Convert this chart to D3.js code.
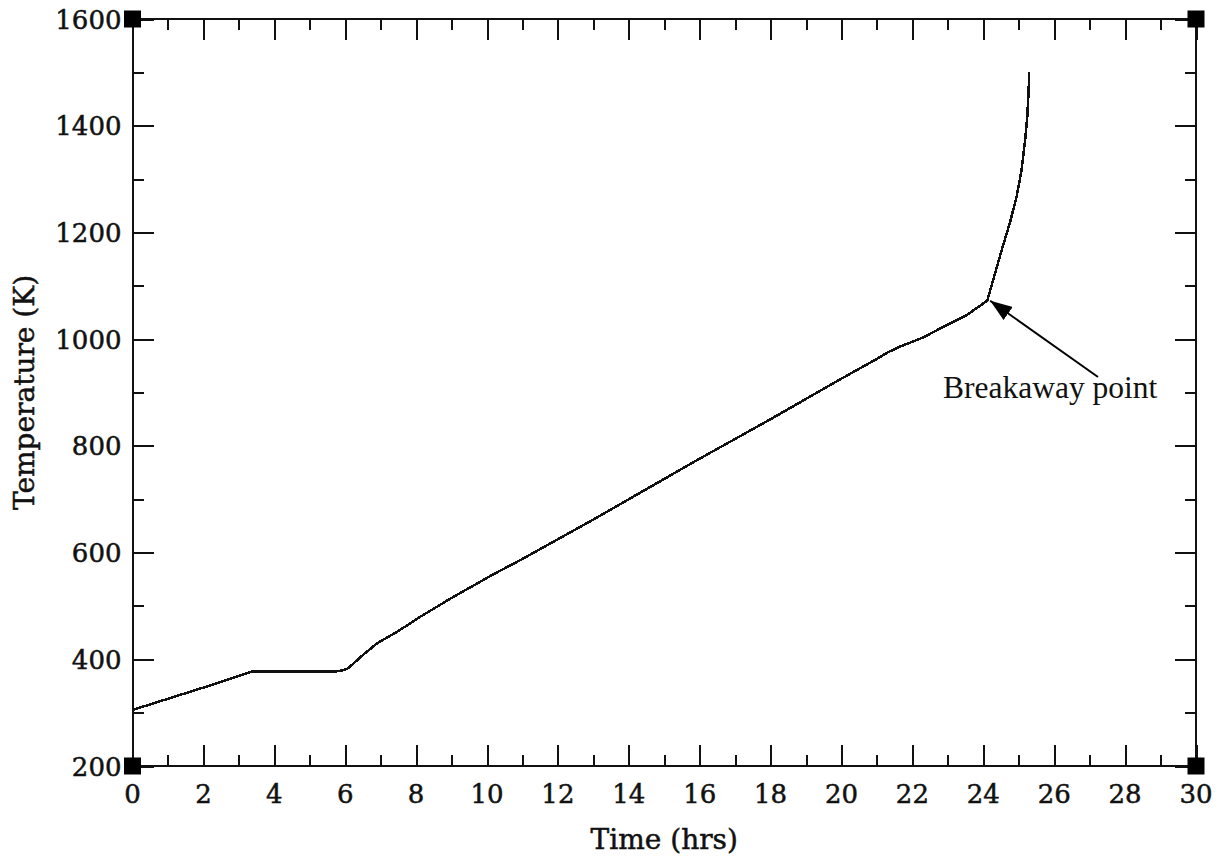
<!DOCTYPE html>
<html>
<head>
<meta charset="utf-8">
<script src="https://cdn.jsdelivr.net/npm/d3@7"></script>
<style>
  html, body { margin: 0; padding: 0; background: #fff; }
  svg { display: block; }
  .tick-label { font-family: "DejaVu Serif", serif; font-size: 26px; fill: #111; stroke: #111; stroke-width: 0.5px; }
  .axis-title { font-family: "DejaVu Serif", serif; font-size: 28px; fill: #111; stroke: #111; stroke-width: 0.5px; }
  .note { font-family: "Liberation Serif", "Times New Roman", serif; font-size: 31.5px; fill: #111; }
</style>
</head>
<body>
<svg id="chart" width="1221" height="857"></svg>
<script>
// Heating history: time (hrs) vs temperature (K)
const timeHrs = [0, 1, 2, 3, 3.36, 4, 5, 5.71, 5.9, 6.08, 6.5, 6.9, 7.5, 8.1, 9, 10.2, 11, 12, 13, 14, 15, 16, 17, 18, 19, 20, 21, 21.3, 21.65, 22.3, 22.87, 23.53, 24.11, 24.28, 24.52, 24.75, 24.94, 25.08, 25.18, 25.24, 25.28, 25.29];
const tempK   = [305, 326, 347, 369, 377, 377, 377, 377, 379, 383, 408, 430, 453, 479, 515, 560, 588, 625, 662, 700, 738, 776, 813, 850, 888, 926, 963, 975, 986, 1003, 1023, 1045, 1072, 1111, 1167, 1218, 1267, 1317, 1373, 1417, 1467, 1501];

const xTickValues = [0, 2, 4, 6, 8, 10, 12, 14, 16, 18, 20, 22, 24, 26, 28, 30];
const yTickValues = [200, 400, 600, 800, 1000, 1200, 1400, 1600];
const xMinorTicks = d3.range(0, 31, 1);
const yMinorTicks = d3.range(200, 1601, 100);

// Annotated point where the oxidation runs away
const breakaway = { t: 24.11, T: 1072, label: "Breakaway point" };

const svg = d3.select("#chart");
const plotLeft = 132.5, plotRight = 1196, plotTop = 19, plotBottom = 766;

const x = d3.scaleLinear().domain([0, 30]).range([plotLeft, plotRight]);
const y = d3.scaleLinear().domain([200, 1600]).range([plotBottom, plotTop]);

const ink = "#111";
const majorLen = 21, minorLen = 11;

// Frame-style axes: ticks point inward on all four sides
function tickAxis(axisGen, tr, ticks, len) {
  return svg.append("g")
    .attr("transform", tr)
    .call(axisGen.tickValues(ticks).tickSize(len).tickFormat(""))
    .call(g => g.select(".domain").remove())
    .call(g => g.selectAll(".tick line").attr("stroke", ink).attr("stroke-width", 2).attr("shape-rendering", "crispEdges"));
}
// bottom (ticks up), top (ticks down), left (ticks right), right (ticks left)
tickAxis(d3.axisTop(x), `translate(0,${plotBottom})`, xMinorTicks, minorLen);
tickAxis(d3.axisTop(x), `translate(0,${plotBottom})`, xTickValues, majorLen);
tickAxis(d3.axisBottom(x), `translate(0,${plotTop})`, xMinorTicks, minorLen);
tickAxis(d3.axisBottom(x), `translate(0,${plotTop})`, xTickValues, majorLen);
tickAxis(d3.axisRight(y), `translate(${plotLeft},0)`, yMinorTicks, minorLen);
tickAxis(d3.axisRight(y), `translate(${plotLeft},0)`, yTickValues, majorLen);
tickAxis(d3.axisLeft(y), `translate(${plotRight},0)`, yMinorTicks, minorLen);
tickAxis(d3.axisLeft(y), `translate(${plotRight},0)`, yTickValues, majorLen);

// Frame lines
svg.append("rect")
  .attr("x", plotLeft).attr("y", plotTop)
  .attr("width", plotRight - plotLeft).attr("height", plotBottom - plotTop)
  .attr("fill", "none").attr("stroke", ink).attr("stroke-width", 2)
  .attr("shape-rendering", "crispEdges");

// Tick labels
svg.append("g").selectAll("text")
  .data(xTickValues).join("text")
  .attr("class", "tick-label")
  .attr("x", d => x(d)).attr("y", plotBottom + 37)
  .attr("text-anchor", "middle")
  .text(d => d);

svg.append("g").selectAll("text")
  .data(yTickValues).join("text")
  .attr("class", "tick-label")
  .attr("x", plotLeft - 11).attr("y", d => y(d) + 9.5)
  .attr("text-anchor", "end")
  .text(d => d);

// Axis titles
svg.append("text")
  .attr("class", "axis-title")
  .attr("x", (plotLeft + plotRight) / 2).attr("y", 849)
  .attr("text-anchor", "middle")
  .text("Time (hrs)");

svg.append("text")
  .attr("class", "axis-title")
  .attr("transform", `translate(34,${(plotTop + plotBottom) / 2}) rotate(-90)`)
  .attr("text-anchor", "middle")
  .text("Temperature (K)");

// Temperature curve
const series = timeHrs.map((t, i) => ({ t, T: tempK[i] }));
svg.append("path")
  .datum(series)
  .attr("fill", "none")
  .attr("stroke", ink)
  .attr("stroke-width", 2.5)
  .attr("stroke-linejoin", "round")
  .attr("shape-rendering", "crispEdges")
  .attr("d", d3.line().x(d => x(d.t)).y(d => y(d.T)));

// Corner markers
const corners = [[0, 200], [30, 200], [0, 1600], [30, 1600]];
svg.append("g").selectAll("rect")
  .data(corners).join("rect")
  .attr("x", d => x(d[0]) - 8.5).attr("y", d => y(d[1]) - 8.5)
  .attr("width", 17).attr("height", 17)
  .attr("fill", "#000");

// Annotation arrow and label
svg.append("defs").append("marker")
  .attr("id", "arrowhead")
  .attr("viewBox", "0 0 22 16")
  .attr("refX", 22).attr("refY", 8)
  .attr("markerWidth", 22).attr("markerHeight", 16)
  .attr("markerUnits", "userSpaceOnUse")
  .attr("orient", "auto")
  .append("path").attr("d", "M0,0 L22,8 L0,16 Z").attr("fill", "#000");

const tipX = x(breakaway.t) + 3, tipY = y(breakaway.T);
svg.append("line")
  .attr("x1", 1098).attr("y1", 377)
  .attr("x2", tipX).attr("y2", tipY)
  .attr("stroke", "#000").attr("stroke-width", 2)
  .attr("marker-end", "url(#arrowhead)");

svg.append("text")
  .attr("class", "note")
  .attr("x", 943).attr("y", 398)
  .text(breakaway.label);
</script>
</body>
</html>
